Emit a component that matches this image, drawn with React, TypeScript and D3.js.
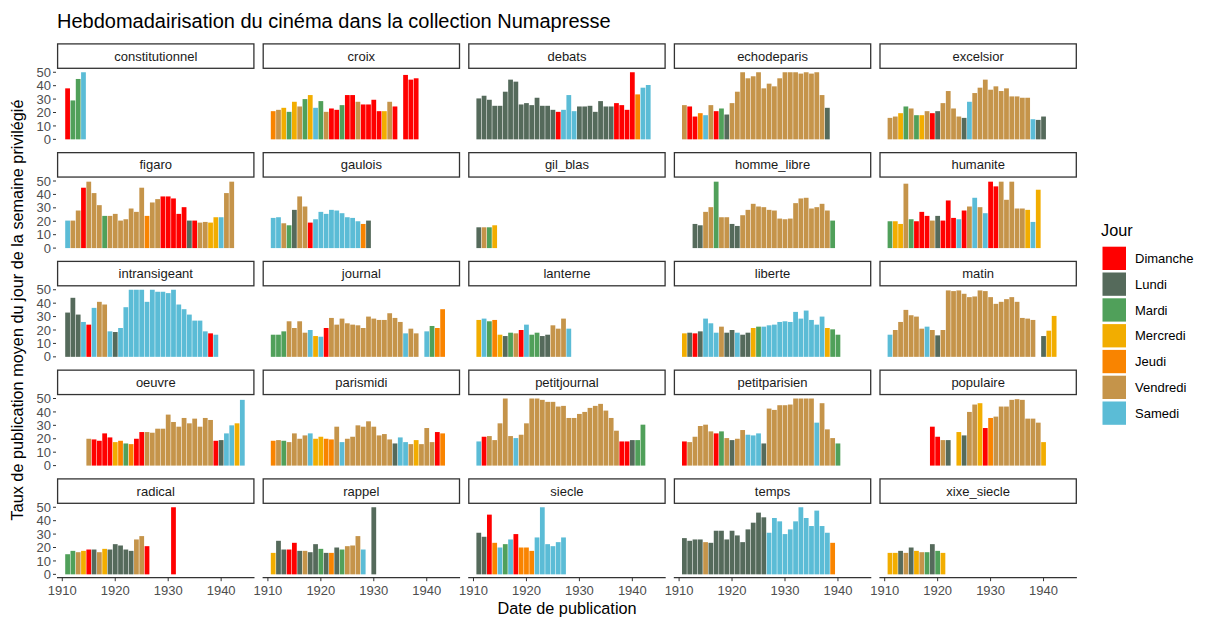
import React from "react";
import * as d3 from "d3";

// ---------- legend / scales ----------
const DAYS = ["Dimanche", "Lundi", "Mardi", "Mercredi", "Jeudi", "Vendredi", "Samedi"];
const DAY_CODES = ["D", "L", "M", "W", "J", "V", "S"];
const DAY_COLORS = ["#FF0000", "#556A5B", "#50A05A", "#F2AD00", "#F98400", "#C5944A", "#5BBCD6"];
const X_TICKS = [1910, 1920, 1930, 1940];
const Y_TICKS = [0, 10, 20, 30, 40, 50];

// ---------- data: start year, values (null = no bar), day codes ("-" = none) ----------
const constitutionnel_start = 1911;
const constitutionnel_values = [38, 29, 45, 50];
const constitutionnel_days = "DMMS";

const croix_start = 1911;
const croix_values = [21, 22, 23.5, 20.5, 28, 24.5, 30, 33, 23.5, 28.5, 20.5, 23, 22, 25.5, 33, 33, 28, 26, 26, 29.5, 21, 21, 28, 24.5, null, 48, 44.5, 45.5];
const croix_days = "JVWMWVMWSMVDDMDDVDDDDWVD-DDD";

const debats_start = 1911;
const debats_values = [30.5, 32.5, 29.5, 25, 25, 35.5, 44.5, 43, 26, 27, 25.5, 31, 25, 25, 22, 20.5, 22, 33, 21, 24.5, 24.5, 25, 20.5, 28.5, 24.5, 24.5, 27, 25.5, 22, 50, 33.5, 38.5, 40.5];
const debats_days = "LLLLLLLLLLLLLLLDSSSLLLLLLLDDDDJSS";

const echodeparis_start = 1911;
const echodeparis_values = [25.5, 24.5, 17, 19.5, 18, 25.5, 21, 23, 18.5, 27, 35.5, 50, 45.5, 47, 50, 38, 41.5, 39.5, 45.5, 50, 50, 50, 49, 50, 49, 50, 33, 23.5];
const echodeparis_days = "VDDJSVDMLVVVVVVVVVVVVVVVVVVL";

const excelsior_start = 1911;
const excelsior_values = [16, 17, 19.5, 24.5, 23, 18, 18, 21, 19.5, 21, 27, 36, 23, 17, 16, 28, 34.5, 38.5, 44.5, 37, 39.5, 36, 38, 32, 32, 31, 31, 15, 14.5, 17];
const excelsior_days = "VVWMVMWVDLVVVVLSVVVVVVVVVVVSLL";

const figaro_start = 1911;
const figaro_values = [20.5, 20.5, 28, 45, 49.5, 41, 32, 24, 24, 25.5, 20.5, 21.5, 29.5, 27, 45, 24, 34, 36.5, 38.5, 38.5, 37, 25.5, 30.5, 20.5, 20.5, 19, 19.5, 19, 23, 23, 41, 49.5];
const figaro_days = "SVVDVVVMVVVVVVVJVVDDDDDLDVVWWSVV";

const gaulois_start = 1911;
const gaulois_values = [22.5, 23, 18.5, 17, 28.5, 38.5, 31, 19, 21.5, 27, 25.5, 28.5, 28, 26, 23, 22.5, 20, 18, 20.5];
const gaulois_days = "SSVMLVVDSSSSSSSSSJL";

const gil_blas_start = 1911;
const gil_blas_values = [15.5, 15.5, 15.5, 17];
const gil_blas_days = "LVMW";

const homme_libre_start = 1913;
const homme_libre_values = [18, 17, 27, 30.5, 49.5, 23, 23, 18, 16.5, 24.5, 28.5, 33, 31, 30.5, 28.5, 28, 22, 21.5, 22, 33.5, 37, 37.5, 29.5, 30.5, 33, 28, 20.5];
const homme_libre_days = "LLVVMVVLLVVVVVVVVVVVVVVVVVM";

const humanite_start = 1911;
const humanite_values = [20, 20, 18, 48, 21.5, 20, 27, 24, 20.5, 24, 20.5, 35.5, 22.5, 21.5, 28, 31, 37.5, 30.5, 26, 49.5, 46, 49.5, 36, 49.5, 29.5, 29.5, 28.5, 19.5, 43.5];
const humanite_days = "MWWVMDDDVLDDDSDVSVSDDVVVVVWSW";

const intransigeant_start = 1911;
const intransigeant_values = [33, 44, 31.5, 26, 24, 36.5, 41, 39, 19, 18.5, 21.5, 37, 50, 50, 50, 41, 50, 48.5, 48.5, 47.5, 50, 39, 35.5, 31.5, 27, 27, 19, 17.5, 16.5];
const intransigeant_days = "LLLSDSVVSLSSSSSSSSSSSSSSSSSDS";

const journal_start = 1911;
const journal_values = [16.5, 16.5, 19, 26.5, 21.5, 26.5, 18, 20, 15.5, 15, 21.5, 29, 24, 28.5, 25, 24, 23.5, 21.5, 30, 28.5, 27.5, 27.5, 32.5, 29, 26, 17.5, 21, 17.5, null, 19, 23, 21.5, 35.5];
const journal_days = "MMMVVVVSWSDVVVVVVVVVVVVVVSVV-SMJJ";

const lanterne_start = 1911;
const lanterne_values = [27.5, 28.5, 26.5, 27.5, 16.5, 15.5, 18, 17.5, 20, 24, 16.5, 18, 15.5, 16.5, 23.5, 21, 28.5, 21];
const lanterne_days = "WSMJWLMVDSMMLLVVVS";

const liberte_start = 1911;
const liberte_values = [17.5, 18, 17.5, 19, 28.5, 25, 18, 22.5, 18, 20, 18, 16.5, 18, 21.5, 22.5, 22.5, 23.5, 24, 26, 26.5, 26, 33.5, 28.5, 34.5, 27.5, 24, 30, 21.5, 20.5, 16.5];
const liberte_days = "WLDLSSSVLLSLLWMSSSSSSSSSSSSWMM";

const matin_start = 1911;
const matin_values = [16.5, 20, 26, 35, 31, 30, 21, 22.5, 20, 16, 20, 49.5, 49, 49.5, 47, 44.5, 45, 49.5, 49, 44.5, 39.5, 41, 43, 44.5, 41, 29, 28.5, 27.5, null, 15.5, 19.5, 30.5];
const matin_days = "SVVVVVVSVLVVVVVVVVVVVVVVVVVV-LWW";

const oeuvre_start = 1915;
const oeuvre_values = [20, 19.5, 18.5, 24, 21, 17.5, 18.5, 16.5, 16, 20, 25, 25, 24.5, 27.5, 27.5, 38, 32.5, 29, 35.5, 31.5, 35, 29, 35.5, 34, 18.5, 19, 24, 30, 31.5, 49];
const oeuvre_days = "VDDDDWJMJDDVVVVVVVVVVVVVDLSSWS";

const parismidi_start = 1911;
const parismidi_values = [18.5, 19, 18.5, 17.5, 24, 20, 22.5, 24, 20, 21.5, 20, 19.5, 29, 17.5, 20, 21.5, 30, 29, 33, 29, 22.5, 23.5, 19.5, 16.5, 21, 17.5, 16, 19, 16, 28, 17.5, 25, 24];
const parismidi_days = "JVMVVVVSWWJJVSVVVVVVVVVLSSVWVVVDJ";

const petitjournal_start = 1911;
const petitjournal_values = [18, 21.5, 22, 19, 31.5, 50, 22, 20.5, 23, 31.5, 50, 50, 49, 47.5, 47.5, 44, 44.5, 35.5, 35.5, 38.5, 40, 43, 44.5, 46, 41, 35.5, 26, 18, 18, 19, 19, 30.5];
const petitjournal_days = "SDVVVVVSVVVVVVVVVVVVVVVVVVVDDLMM";

const petitparisien_start = 1911;
const petitparisien_values = [18, 17.5, 21.5, 29.5, 30.5, 25.5, 24, 25.5, 20.5, 19, 20, 26.5, 23, 22.5, 24, 16.5, 42.5, 41.5, 45, 45, 45.5, 50, 50, 50, 50, 32, 46.5, 27, 20.5, 16.5];
const petitparisien_days = "DVVVVVDMVLVVSSSLVVVVVVVVVSVVVM";

const populaire_start = 1919;
const populaire_values = [29, 21.5, 19, 19, null, 25, 22.5, 40, 45.5, 46.5, 28, 35.5, 36.5, 44, 44, 49, 49.5, 49, 35, 35, 32, 17.5];
const populaire_days = "DDVL-WLVVWDJVVVVVVVVVW";

const radical_start = 1911;
const radical_values = [15, 17.5, 16.5, 17.5, 18.5, 18.5, 16.5, 19, 18.5, 22.5, 21.5, 18.5, 17.5, 26, 28.5, 21, null, null, null, null, 50];
const radical_days = "MMVWDLVWLLLLLVVD----D";

const rappel_start = 1911;
const rappel_values = [16, 25, 18.5, 18.5, 23.5, 17.5, 17.5, 16.5, 22.5, 19, 16, 16, 20, 18.5, 21, 21.5, 28.5, 18.5, null, 50];
const rappel_days = "WLLDDLVLLMLJLMVVVS-L";

const siecle_start = 1911;
const siecle_values = [31, 28, 44.5, 23.5, 20, 22.5, 26, 30, 20, 20, 17.5, 27.5, 50, 22.5, 21, 24, 27.5];
const siecle_days = "LLDJSMSDJJJSSSSSS";

const temps_start = 1911;
const temps_values = [27, 25, 26, 26, 24, 23.5, 32.5, 32.5, 26, 32.5, 29, 24, 33.5, 38.5, 46, 42.5, 31, 42, 39.5, 30, 33.5, 39.5, 50, 42, 36, 47.5, 36, 31, 23.5];
const temps_days = "LLLLVLLLLLLLLLLLSSSSSSSSSSSSJ";

const xixe_siecle_start = 1911;
const xixe_siecle_values = [16, 16, 17.5, 16, 20, 17.5, 16.5, 16.5, 22.5, 17.5, 16];
const xixe_siecle_days = "WWLVLWVMLMW";

const FACETS = [
  { name: "constitutionnel", start: constitutionnel_start, values: constitutionnel_values, days: constitutionnel_days },
  { name: "croix", start: croix_start, values: croix_values, days: croix_days },
  { name: "debats", start: debats_start, values: debats_values, days: debats_days },
  { name: "echodeparis", start: echodeparis_start, values: echodeparis_values, days: echodeparis_days },
  { name: "excelsior", start: excelsior_start, values: excelsior_values, days: excelsior_days },
  { name: "figaro", start: figaro_start, values: figaro_values, days: figaro_days },
  { name: "gaulois", start: gaulois_start, values: gaulois_values, days: gaulois_days },
  { name: "gil_blas", start: gil_blas_start, values: gil_blas_values, days: gil_blas_days },
  { name: "homme_libre", start: homme_libre_start, values: homme_libre_values, days: homme_libre_days },
  { name: "humanite", start: humanite_start, values: humanite_values, days: humanite_days },
  { name: "intransigeant", start: intransigeant_start, values: intransigeant_values, days: intransigeant_days },
  { name: "journal", start: journal_start, values: journal_values, days: journal_days },
  { name: "lanterne", start: lanterne_start, values: lanterne_values, days: lanterne_days },
  { name: "liberte", start: liberte_start, values: liberte_values, days: liberte_days },
  { name: "matin", start: matin_start, values: matin_values, days: matin_days },
  { name: "oeuvre", start: oeuvre_start, values: oeuvre_values, days: oeuvre_days },
  { name: "parismidi", start: parismidi_start, values: parismidi_values, days: parismidi_days },
  { name: "petitjournal", start: petitjournal_start, values: petitjournal_values, days: petitjournal_days },
  { name: "petitparisien", start: petitparisien_start, values: petitparisien_values, days: petitparisien_days },
  { name: "populaire", start: populaire_start, values: populaire_values, days: populaire_days },
  { name: "radical", start: radical_start, values: radical_values, days: radical_days },
  { name: "rappel", start: rappel_start, values: rappel_values, days: rappel_days },
  { name: "siecle", start: siecle_start, values: siecle_values, days: siecle_days },
  { name: "temps", start: temps_start, values: temps_values, days: temps_days },
  { name: "xixe_siecle", start: xixe_siecle_start, values: xixe_siecle_values, days: xixe_siecle_days },
];

// ---------- layout ----------
const W = 1213;
const H = 617;
const FONT = "'Liberation Sans', Arial, Helvetica, sans-serif";
const NCOL = 5;
const PANEL_X0 = 57;
const COL_STEP = 205.6;
const PANEL_W = 197.5;
const PANEL_Y0 = 68.9;
const ROW_STEP = 108.75;
const PANEL_H = 73.8;
const STRIP_H = 25.6;

export default function App() {
  const dayColor = d3.scaleOrdinal<string, string>().domain(DAY_CODES).range(DAY_COLORS);
  const nRows = Math.ceil(FACETS.length / NCOL);

  const panels = FACETS.map((f, i) => {
    const col = i % NCOL;
    const row = Math.floor(i / NCOL);
    const left = PANEL_X0 + col * COL_STEP;
    const top = PANEL_Y0 + row * ROW_STEP;
    const x = d3.scaleLinear().domain([1909.0, 1946.3]).range([left, left + PANEL_W]);
    const y = d3.scaleLinear().domain([-2.5, 52.5]).range([top + PANEL_H, top]);
    const bars = f.values
      .map((v, k) => ({ year: f.start + k, value: v, day: f.days[k] }))
      .filter((b) => b.value !== null && b.day !== "-");
    return { f, col, row, left, top, x, y, bars };
  });

  return (
    <svg
      width={W}
      height={H}
      viewBox={`0 0 ${W} ${H}`}
      style={{ position: "absolute", left: 0, top: 0, background: "#fff" }}
      fontFamily={FONT}
    >
      <rect x={0} y={0} width={W} height={H} fill="#fff" />
      <text x={57} y={28} fontSize={20} fill="#000">
        Hebdomadairisation du cinéma dans la collection Numapresse
      </text>

      {panels.map(({ f, col, row, left, top, x, y, bars }) => (
        <g key={f.name}>
          {/* strip */}
          <rect
            x={left + 0.6}
            y={top - STRIP_H + 0.6}
            width={PANEL_W - 1.2}
            height={STRIP_H - 1.2}
            fill="#fff"
            stroke="#333"
            strokeWidth={1.3}
          />
          <text
            x={left + PANEL_W / 2}
            y={top - STRIP_H / 2 + 4.6}
            textAnchor="middle"
            fontSize={13}
            fill="#1a1a1a"
          >
            {f.name}
          </text>
          {/* bars */}
          {bars.map((b) => (
            <rect
              key={b.year}
              x={x(b.year - 0.45)}
              width={x(b.year + 0.45) - x(b.year - 0.45)}
              y={y(b.value as number)}
              height={y(0) - y(b.value as number)}
              fill={dayColor(b.day)}
            />
          ))}
          {/* y axis on first column */}
          {col === 0 &&
            Y_TICKS.map((t) => (
              <g key={t}>
                <line x1={left - 4} x2={left - 1} y1={y(t)} y2={y(t)} stroke="#333" strokeWidth={1} />
                <text x={left - 6} y={y(t) + 4.6} textAnchor="end" fontSize={13} fill="#4d4d4d">
                  {t}
                </text>
              </g>
            ))}
          {/* x axis on last row */}
          {row === nRows - 1 && (
            <g>
              <line x1={left} x2={left + PANEL_W} y1={top + PANEL_H} y2={top + PANEL_H} stroke="#333" strokeWidth={1.2} />
              {X_TICKS.map((t) => (
                <g key={t}>
                  <line x1={x(t)} x2={x(t)} y1={top + PANEL_H} y2={top + PANEL_H + 3.5} stroke="#333" strokeWidth={1} />
                  <text x={x(t)} y={top + PANEL_H + 17.5} textAnchor="middle" fontSize={13} fill="#4d4d4d">
                    {t}
                  </text>
                </g>
              ))}
            </g>
          )}
        </g>
      ))}

      {/* axis titles */}
      <text x={567} y={614} textAnchor="middle" fontSize={16.25} fill="#000">
        Date de publication
      </text>
      <text
        transform={`translate(23,310) rotate(-90)`}
        textAnchor="middle"
        fontSize={16.25}
        fill="#000"
      >
        Taux de publication moyen du jour de la semaine privilégié
      </text>

      {/* legend */}
      <text x={1101} y={236} fontSize={16.25} fill="#000">
        Jour
      </text>
      {DAYS.map((d, i) => (
        <g key={d}>
          <rect x={1102.5} y={246.7 + i * 25.8} width={23.5} height={23.3} fill={DAY_COLORS[i]} />
          <text x={1135} y={246.7 + i * 25.8 + 11.65 + 4.6} fontSize={13} fill="#000">
            {d}
          </text>
        </g>
      ))}
    </svg>
  );
}
